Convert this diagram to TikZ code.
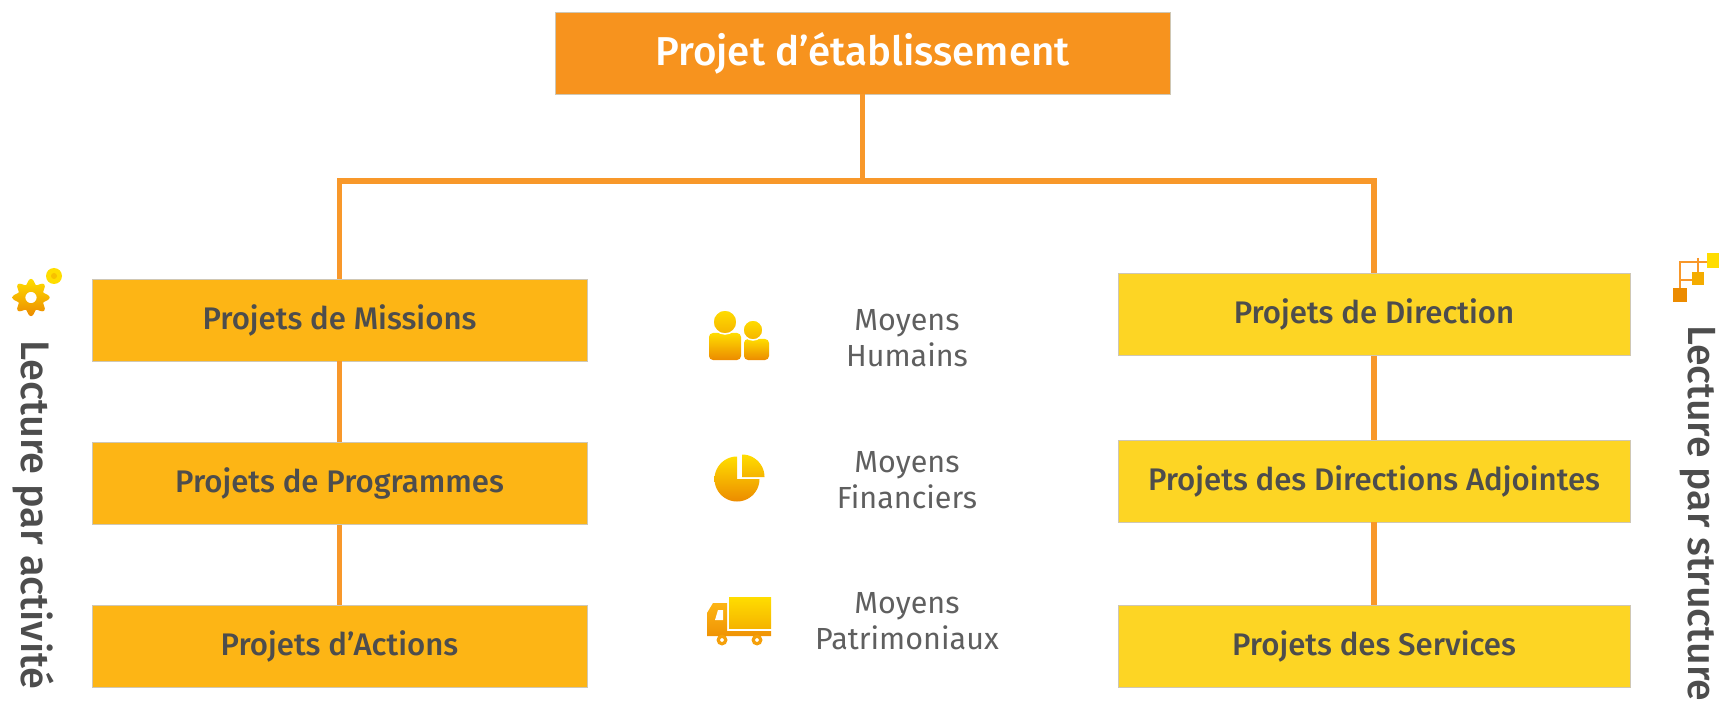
\documentclass[tikz,border=0pt]{standalone}
\usepackage{fontspec}
\setmainfont{Fira Sans}
\newfontfamily\medfont{Fira Sans Medium}
\definecolor{topc}{HTML}{F7931E}
\definecolor{leftc}{HTML}{FDB515}
\definecolor{rightc}{HTML}{FDD524}
\definecolor{linec}{HTML}{F8982A}
\definecolor{edgec}{HTML}{CFC7B4}
\definecolor{txt}{HTML}{4D4D4D}
\definecolor{txtl}{HTML}{5F5F5F}
\definecolor{ictop}{HTML}{FFDD00}
\definecolor{icbot}{HTML}{EC8B00}
\tikzset{
  x=1pt,y=-1pt,
  box/.style={draw=edgec,line width=0.8pt,minimum width=#1,minimum height=82pt,inner sep=0pt,align=center,text=txt,font=\fontsize{31.2}{34}\medfont},
  leftbox/.style={box=495pt,fill=leftc},
  rightbox/.style={box=512pt,fill=rightc},
  topbox/.style={box=615pt,fill=topc,text=white,font=\fontsize{40.3}{44}\medfont},
  conn/.style={draw=linec,line width=5.5pt},
  moy/.style={align=center,text=txtl,inner sep=0pt,font=\fontsize{30.5}{36}\selectfont},
  side/.style={rotate=-90,anchor=west,inner sep=0pt,text=txt,font=\fontsize{#1}{44}\medfont},
  icon/.style={top color=ictop,bottom color=icbot},
  iconb/.style={top color=ictop,bottom color=ictop!50!icbot},
  halo/.style={draw=white,line width=1.5pt}
}
\begin{document}
\begin{tikzpicture}
\useasboundingbox (0,0) rectangle (1719,703);
\clip (0,0) rectangle (1719,703);
\coordinate (bus) at (862.5,181);
% boxes
\node[topbox] (top) at (862.5,53) {Projet d’établissement};
\node[leftbox] (m) at (339.5,320) {Projets de Missions};
\node[leftbox] (p) at (339.5,483.5) {Projets de Programmes};
\node[leftbox] (a) at (339.5,646.5) {Projets d’Actions};
\node[rightbox] (d) at (1374,314.5) {Projets de Direction};
\node[rightbox] (da) at (1374,481) {Projets des Directions Adjointes};
\node[rightbox] (s) at (1374,646.5) {Projets des Services};
\draw[conn] (top.south) -- (bus);
\draw[conn] (m.north) -- (m.north |- bus) -- (d.north |- bus) -- (d.north);
\draw[conn] (m.south) -- (p.north);
\draw[conn] (p.south) -- (a.north);
\draw[conn] (d.south) -- (da.north);
\draw[conn] (da.south) -- (s.north);
% middle labels
\node[moy] (l1) at (907,338) {Moyens\\Humains};
\node[moy] (l2) at (907,480) {Moyens\\Financiers};
\node[moy] (l3) at (907,621) {Moyens\\Patrimoniaux};
% side labels
\node[side=39.8] (sl) at (33,340) {Lecture par activité};
\node[side=39.3] (sr) at (1698,325) {Lecture par structure};
% gear
\shade[icon,even odd rule] plot[domain=0:360,samples=121,smooth] ({31+(16+2.6*cos(8*\x))*cos(\x)},{297.5+(16+2.6*cos(8*\x))*sin(\x)}) -- cycle (31,297.5) circle[radius=5.7];
\fill[ictop] (54,276) circle[radius=8];
\fill[ictop!65!icbot] (54,276) circle[radius=3];
% people
\shade[icon] [rounded corners=4pt] (709,333) rectangle (741,360);
\shade[iconb,halo] (725,322) circle[radius=12];
\shade[icon] [rounded corners=4pt] (744,339) rectangle (769,360);
\shade[iconb,halo] (753,330) circle[radius=10];
% pie
\shade[icon] (737,479) -- plot[domain=0:270,samples=61] ({737+22.5*cos(\x)},{479+22.5*sin(\x)}) -- cycle;
\shade[iconb] (742,477) -- plot[domain=-90:0,samples=31] ({742+22.5*cos(\x)},{477+22.5*sin(\x)}) -- cycle;
% truck
\shade[iconb] (729,597) rectangle (771,628);
\shade[icon,top color=leftc,bottom color=icbot!80!leftc] (727,631) -- (771,631) -- (771,636) -- (707,636) -- (707,613) -- (713,603) -- (727,603) -- cycle;
\fill[white] (715,620) -- (723,620) -- (723,610) -- (718,610) -- cycle;
\fill[icbot!50!leftc,even odd rule] (722,640) circle[radius=5.5] (722,640) circle[radius=2];
\fill[icbot!50!leftc,even odd rule] (757,640) circle[radius=5.5] (757,640) circle[radius=2];
% hierarchy icon
\draw[linec,line width=2.6pt] (1680,288) -- (1680,262) -- (1708,262);
\draw[linec,line width=2.6pt] (1680,280) -- (1697,280);
\draw[linec,line width=2.6pt] (1698,258) -- (1698,272);
\fill[icbot] (1673,288) rectangle (1687,302);
\fill[ictop!40!icbot] (1692,272) rectangle (1704,285);
\fill[ictop] (1707,253) rectangle (1719,268);
\end{tikzpicture}
\end{document}
